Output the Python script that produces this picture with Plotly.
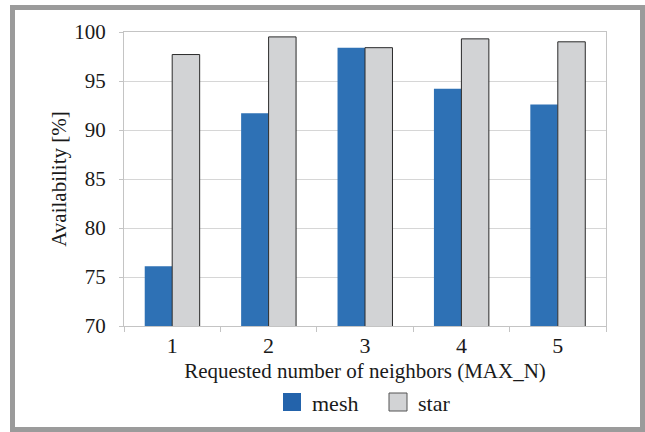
import plotly.graph_objects as go

# Availability per requested neighbour count, for the two topologies
categories = ["1", "2", "3", "4", "5"]
mesh_values = [76.1, 91.7, 98.4, 94.2, 92.6]
star_values = [97.7, 99.5, 98.4, 99.3, 99.0]
y_ticks = [70, 75, 80, 85, 90, 95, 100]

MESH_COLOR = "#2E71B5"
STAR_COLOR = "#D2D3D5"
STAR_EDGE = "#2a2a2a"
GRID = "#D6D6D6"
AXIS = "#C4C4C4"
TEXT = "#1a1a1a"
FONT = "Liberation Serif"

W, H = 645, 432
L, R, T, B = 124, 39, 32, 106

fig = go.Figure()

fig.add_trace(go.Bar(
    x=categories, y=mesh_values, name="mesh",
    marker=dict(color=MESH_COLOR, line=dict(width=0)),
))
fig.add_trace(go.Bar(
    x=categories, y=star_values, name="star",
    marker=dict(color=STAR_COLOR, line=dict(color=STAR_EDGE, width=1)),
))

# pixel -> paper conversion helpers for decorations outside the plot area
pw, ph = W - L - R, H - T - B
def px_x(v):
    return (v - L) / pw
def px_y(v):
    return (H - B - v) / ph

# Outer grey frame around the whole figure
fig.add_shape(
    type="rect", xref="paper", yref="paper",
    x0=px_x(12.5), x1=px_x(642.5), y0=px_y(429.5), y1=px_y(7.5),
    line=dict(color="#9B9B9B", width=5), fillcolor="rgba(0,0,0,0)",
    layer="below",
)

# Legend below the axis title: square swatch + label per series
legend_items = [
    ("mesh", "#2363AB", None, 283),
    ("star", STAR_COLOR, "#555555", 389),
]
for label, fill, edge, left in legend_items:
    fig.add_shape(
        type="rect", xref="paper", yref="paper",
        x0=px_x(left), x1=px_x(left + 18), y0=px_y(411), y1=px_y(393),
        fillcolor=fill,
        line=dict(color=edge if edge else fill, width=1 if edge else 0),
    )
    fig.add_annotation(
        text=label, xref="paper", yref="paper",
        x=px_x(left + 27), y=px_y(403), xanchor="left", yanchor="middle",
        showarrow=False, font=dict(family=FONT, size=22, color=TEXT),
    )

fig.update_layout(
    width=W, height=H,
    margin=dict(l=L, r=R, t=T, b=B, pad=0),
    paper_bgcolor="white", plot_bgcolor="white",
    barmode="group", bargap=0.43, bargroupgap=0,
    font=dict(family=FONT, size=21, color=TEXT),
    showlegend=False,
    xaxis=dict(
        type="category", categoryorder="array", categoryarray=categories,
        tickson="boundaries", ticks="outside", ticklen=5, tickcolor=AXIS,
        showline=True, linecolor=AXIS, linewidth=1, mirror=True,
        showgrid=False, zeroline=False,
        tickfont=dict(family=FONT, size=22, color=TEXT),
        title=dict(text="Requested number of neighbors (MAX_N)",
                   font=dict(family=FONT, size=21, color=TEXT), standoff=5),
    ),
    yaxis=dict(
        range=[70, 100], tickvals=y_ticks,
        ticks="outside", ticklen=4, tickcolor=AXIS,
        showline=True, linecolor=AXIS, linewidth=1, mirror=True,
        showgrid=True, gridcolor=GRID, gridwidth=1, zeroline=False,
        tickfont=dict(family=FONT, size=21, color=TEXT),
        ticklabelstandoff=9,
        title=dict(text="Availability [%]",
                   font=dict(family=FONT, size=21, color=TEXT), standoff=1),
    ),
)

fig.write_html("out.html")
